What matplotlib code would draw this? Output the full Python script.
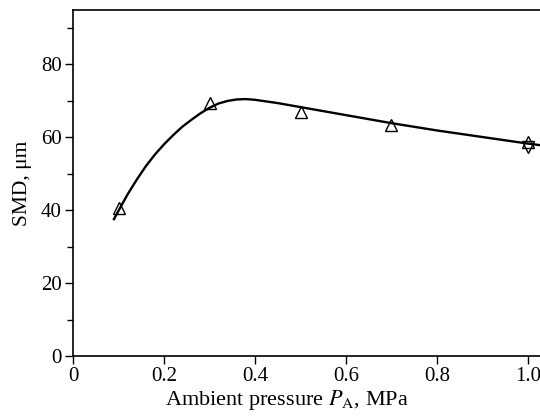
import matplotlib
matplotlib.use('Agg')
import matplotlib.pyplot as plt
from matplotlib.ticker import MultipleLocator

# measured points (open triangles)
pressure_up = [0.1, 0.3, 0.5, 0.7, 1.0]
smd_up = [40.5, 69.3, 66.8, 63.4, 58.7]
pressure_down = [1.0]
smd_down = [57.3]

# fitted curve
curve_x = [0.09, 0.10, 0.12, 0.14, 0.16, 0.18, 0.20, 0.22, 0.24, 0.26, 0.28,
           0.30, 0.32, 0.34, 0.36, 0.38, 0.40, 0.45, 0.50, 0.55, 0.60, 0.65,
           0.70, 0.75, 0.80, 0.85, 0.90, 0.95, 1.00, 1.05]
curve_y = [37.5, 39.8, 44.3, 48.3, 52.0, 55.2, 58.0, 60.5, 62.8, 64.7, 66.5,
           68.0, 69.2, 69.9, 70.3, 70.4, 70.2, 69.3, 68.2, 67.1, 66.0, 64.9,
           63.8, 62.8, 61.8, 60.9, 60.0, 59.1, 58.2, 57.4]

plt.rcParams['font.family'] = ['Liberation Serif', 'DejaVu Serif']
plt.rcParams['mathtext.fontset'] = 'stix'

fig = plt.figure(figsize=(5.4, 4.16), dpi=100)
ax = fig.add_axes([0.1352, 0.1442, 0.8847, 0.8317])

ax.plot(curve_x, curve_y, color='black', lw=1.7, zorder=2)
ax.plot(pressure_up, smd_up, linestyle='none', marker='^', ms=8,
        mfc='none', mec='black', mew=1.0, zorder=3)
ax.plot(pressure_down, smd_down, linestyle='none', marker='v', ms=8,
        mfc='none', mec='black', mew=1.0, zorder=3)

ax.set_xlim(0, 1.05)
ax.set_ylim(0, 94.8)
ax.set_xticks([0, 0.2, 0.4, 0.6, 0.8, 1.0])
ax.set_xticklabels(['0', '0.2', '0.4', '0.6', '0.8', '1.0'])
ax.yaxis.set_major_locator(MultipleLocator(20))
ax.yaxis.set_minor_locator(MultipleLocator(10))

ax.tick_params(axis='both', which='major', direction='out', length=6,
               width=1.0, labelsize=15, pad=2, colors='black')
ax.tick_params(axis='y', which='minor', direction='out', length=4, width=1.0)
for sp in ax.spines.values():
    sp.set_linewidth(1.2)

ax.set_xlabel(r'Ambient pressure $P_{\mathrm{A}}$, MPa', fontsize=16)
ax.xaxis.set_label_coords(0.448, -0.092)
ax.set_ylabel('SMD, μm', fontsize=15.5)
ax.yaxis.set_label_coords(-0.085, 0.5)

fig.savefig('out.png', dpi=100)
